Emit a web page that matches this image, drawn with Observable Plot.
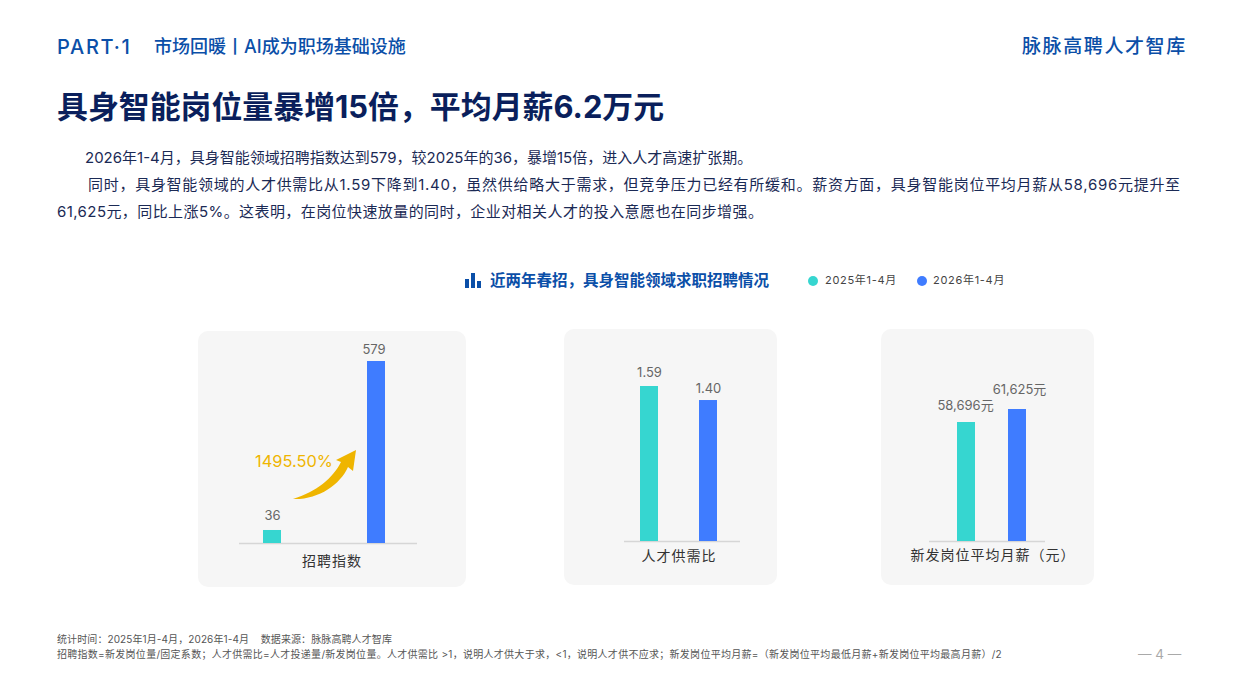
<!DOCTYPE html>
<html lang="zh">
<head>
<meta charset="utf-8">
<script src="https://cdn.jsdelivr.net/npm/d3@7"></script>
<script src="https://cdn.jsdelivr.net/npm/@observablehq/plot@0.6"></script>
<style>
html,body{margin:0;padding:0;background:#fff;}
body{width:1240px;height:697px;position:relative;overflow:hidden;font-family:Inter,"Noto Sans CJK SC",sans-serif;}
.t{position:absolute;white-space:nowrap;line-height:1;}
.panel{position:absolute;background:#f6f6f6;border-radius:10px;}
.panel svg{display:block;font-family:Inter,"Noto Sans CJK SC",sans-serif;}
.cat text{letter-spacing:1px;}
.dot{position:absolute;width:10px;height:10px;border-radius:50%;}
.ib{position:absolute;background:#0b4fa8;}
</style>
</head>
<body>
<div class="t" style="left:57px;top:37px;font-size:20px;font-weight:500;color:#0b4fa8;letter-spacing:1.7px;">PART·1</div>
<div class="t" style="left:154px;top:38px;font-size:18px;font-weight:500;color:#0b4fa8;">市场回暖丨AI成为职场基础设施</div>
<div class="t" style="left:1022px;top:37px;font-size:19px;font-weight:500;color:#0b4fa8;letter-spacing:1.6px;">脉脉高聘人才智库</div>
<div class="t" style="left:57px;top:92px;font-size:30.9px;font-weight:700;color:#0a1f5c;">具身智能岗位量暴增15倍，平均月薪6.2万元</div>
<div class="t" style="left:85px;top:150px;font-size:15px;color:#1b2a55;">2026年1-4月，具身智能领域招聘指数达到579，较2025年的36，暴增15倍，进入人才高速扩张期。</div>
<div class="t" style="left:88px;top:177px;font-size:15px;color:#1b2a55;letter-spacing:.72px;">同时，具身智能领域的人才供需比从1.59下降到1.40，虽然供给略大于需求，但竞争压力已经有所缓和。薪资方面，具身智能岗位平均月薪从58,696元提升至</div>
<div class="t" style="left:57px;top:204px;font-size:15px;color:#1b2a55;letter-spacing:.42px;">61,625元，同比上涨5%。这表明，在岗位快速放量的同时，企业对相关人才的投入意愿也在同步增强。</div>

<div class="ib" style="left:465px;top:279px;width:4px;height:9px;"></div>
<div class="ib" style="left:471px;top:273px;width:4px;height:15px;"></div>
<div class="ib" style="left:477px;top:281px;width:4px;height:7px;"></div>
<div class="t" style="left:490px;top:273px;font-size:15.5px;font-weight:700;color:#0b4fa8;">近两年春招，具身智能领域求职招聘情况</div>
<div class="dot" style="left:808px;top:276px;background:#36d6d0;"></div>
<div class="t" style="left:825px;top:275px;font-size:11px;color:#444;letter-spacing:.7px;">2025年1-4月</div>
<div class="dot" style="left:917px;top:276px;background:#3f7cff;"></div>
<div class="t" style="left:933px;top:275px;font-size:11px;color:#444;letter-spacing:.7px;">2026年1-4月</div>

<div class="panel" id="p1" style="left:198px;top:331px;width:268px;height:256px;"></div>
<div class="panel" id="p2" style="left:564px;top:329px;width:213px;height:256px;"></div>
<div class="panel" id="p3" style="left:881px;top:329px;width:213px;height:256px;"></div>

<svg style="position:absolute;left:290px;top:445px;" width="70" height="60" viewBox="0 0 70 60">
  <path d="M3 54 C26 47 43 33 51 17 L46 15 L66 5 L63 26 L58 22 C50 40 28 55 3 54 Z" fill="#efb500"/>
</svg>
<div class="t" style="left:255px;top:453px;font-size:16.4px;color:#efb500;">1495.50%</div>

<div class="t" style="left:57px;top:634px;font-size:10px;color:#555;letter-spacing:.1px;">统计时间：2025年1月-4月，2026年1-4月&nbsp;&nbsp;&nbsp;&nbsp;数据来源：脉脉高聘人才智库</div>
<div class="t" style="left:57px;top:649px;font-size:10px;color:#555;letter-spacing:.28px;">招聘指数=新发岗位量/固定系数；人才供需比=人才投递量/新发岗位量。人才供需比 &gt;1，说明人才供大于求，&lt;1，说明人才供不应求；新发岗位平均月薪=（新发岗位平均最低月薪+新发岗位平均最高月薪）/2</div>
<div class="t" style="left:1138px;top:648px;font-size:13.5px;color:#a9a9a9;">— 4 —</div>

<script>
const periods = ["2025年1-4月", "2026年1-4月"];
const colors = ["#36d6d0", "#3f7cff"];
const recruitIndex = [36, 579];
const supplyRatio = [1.59, 1.40];
const monthlyPay = [58696, 61625];
const names = ["招聘指数", "人才供需比", "新发岗位平均月薪（元）"];
const payLabels = ["58,696元", "61,625元"];

function panel(id, o) {
  const rows = periods.map((p, i) => ({period: p, value: o.values[i], label: o.labels[i]}));
  const chart = Plot.plot({
    width: o.w, height: o.h,
    marginLeft: o.ml, marginRight: o.mr, marginTop: o.mt, marginBottom: o.mb,
    style: {background: "transparent"},
    x: {type: "band", domain: periods, range: o.xr, paddingInner: o.pi, paddingOuter: 0, axis: null},
    y: {domain: o.yd, axis: null},
    color: {domain: periods, range: colors},
    marks: [
      Plot.ruleY([o.yd[0]], {stroke: "#d6d6d6", strokeWidth: 1.6}),
      Plot.barY(rows, {x: "period", y1: o.yd[0], y2: "value", fill: "period"}),
      ...rows.map((r, i) => Plot.text([r], {x: "period", y: "value", text: "label", dy: o.ldy[i], dx: o.ldx[i], fontSize: 13, fill: "#666"})),
      Plot.text([o.name], {frameAnchor: "bottom", dy: o.ndy, dx: o.ndx, fontSize: 14, fill: "#333", className: "cat"})
    ]
  });
  document.getElementById(id).appendChild(chart);
}

panel("p1", {values: recruitIndex, labels: recruitIndex.map(String), name: names[0],
  w: 268, h: 256, ml: 41, mr: 49, mt: 30, mb: 44, xr: [65, 187], pi: 0.83, yd: [-5.8, 579], ndy: 22, ndx: 3.500, ldy: [-15, -12], ldx: [0, -2.500]});
panel("p2", {values: supplyRatio, labels: supplyRatio.map(v => v.toFixed(2)), name: names[1],
  w: 213, h: 256, ml: 60, mr: 37, mt: 57, mb: 44, xr: [76, 153], pi: 0.70, yd: [-0.51, 1.59], ndy: 19, ndx: -3.500, ldy: [-14, -12], ldx: [0, 0]});
panel("p3", {values: monthlyPay, labels: payLabels, name: names[2],
  w: 213, h: 256, ml: 48, mr: 49, mt: 80, mb: 44, xr: [76, 145], pi: 0.65, yd: [31900, 61625], ndy: 18, ndx: 5.500, ldy: [-17, -20], ldx: [-1, 2]});
</script>
</body>
</html>
